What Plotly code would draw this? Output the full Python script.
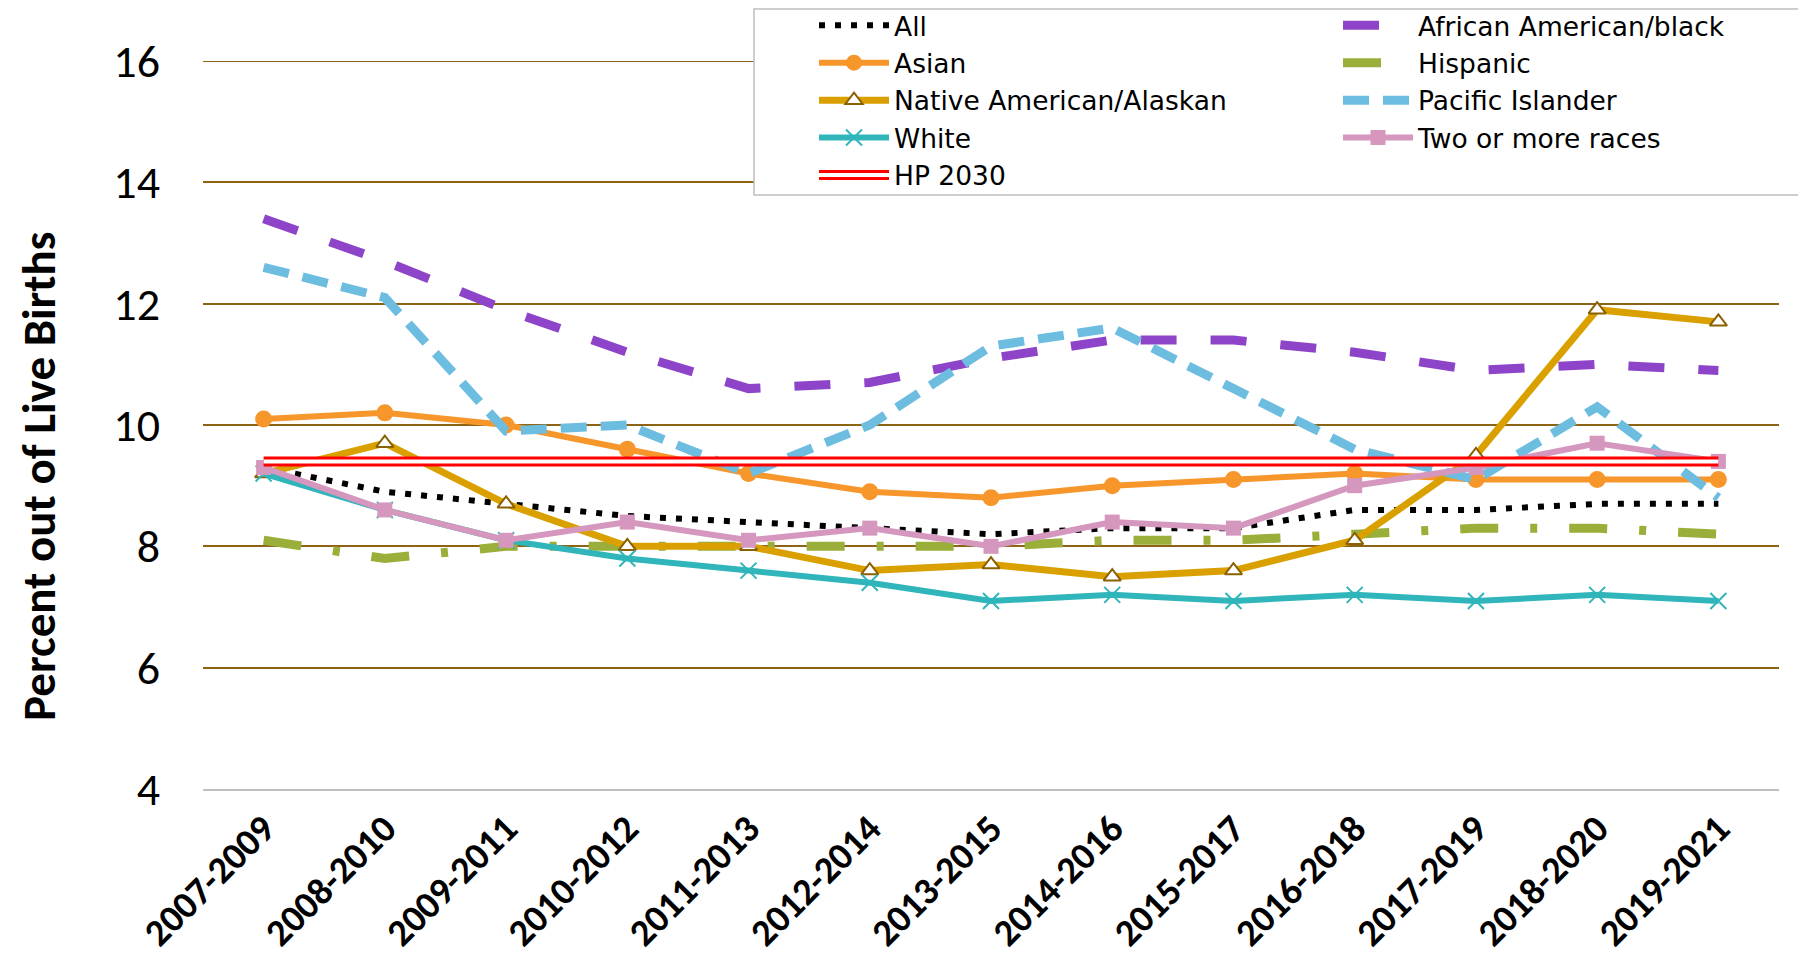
import plotly.graph_objects as go

categories = ['2007-2009', '2008-2010', '2009-2011', '2010-2012', '2011-2013', '2012-2014',
              '2013-2015', '2014-2016', '2015-2017', '2016-2018', '2017-2019', '2018-2020', '2019-2021']

all_vals = [9.3, 8.9, 8.7, 8.5, 8.4, 8.3, 8.2, 8.3, 8.3, 8.6, 8.6, 8.7, 8.7]
african_american = [13.4, 12.7, 11.9, 11.2, 10.6, 10.7, 11.1, 11.4, 11.4, 11.2, 10.9, 11.0, 10.9]
asian = [10.1, 10.2, 10.0, 9.6, 9.2, 8.9, 8.8, 9.0, 9.1, 9.2, 9.1, 9.1, 9.1]
hispanic = [8.1, 7.8, 8.0, 8.0, 8.0, 8.0, 8.0, 8.1, 8.1, 8.2, 8.3, 8.3, 8.2]
native_american = [9.2, 9.7, 8.7, 8.0, 8.0, 7.6, 7.7, 7.5, 7.6, 8.1, 9.5, 11.9, 11.7]
pacific_islander = [12.6, 12.1, 9.9, 10.0, 9.2, 10.0, 11.3, 11.6, 10.6, 9.6, 9.1, 10.3, 8.8]
white = [9.2, 8.6, 8.1, 7.8, 7.6, 7.4, 7.1, 7.2, 7.1, 7.2, 7.1, 7.2, 7.1]
two_or_more = [9.3, 8.6, 8.1, 8.4, 8.1, 8.3, 8.0, 8.4, 8.3, 9.0, 9.3, 9.7, 9.4]
hp2030 = [9.4] * len(categories)

y_ticks = [4, 6, 8, 10, 12, 14, 16]

FONT = "Carlito, Lato, sans-serif"
LEG_FONT = "'DejaVu Sans', sans-serif"
LEG_SIZE = 26.5

fig = go.Figure()

fig.add_trace(go.Scatter(x=categories, y=all_vals, name="All", mode="lines", legend="legend",
                         line=dict(color="black", width=6, dash="6px,10px")))
fig.add_trace(go.Scatter(x=categories, y=african_american, name="African American/black", mode="lines",
                         legend="legend2",
                         line=dict(color="#8E44C8", width=9, dash="36px,34px")))
fig.add_trace(go.Scatter(x=categories, y=asian, name="Asian", mode="lines+markers", legend="legend",
                         line=dict(color="#F7962B", width=6),
                         marker=dict(symbol="circle", size=17, color="#F7962B")))
fig.add_trace(go.Scatter(x=categories, y=hispanic, name="Hispanic", mode="lines", legend="legend2",
                         line=dict(color="#9AAF3A", width=9, dash="38px,32px,7px,32px")))
fig.add_trace(go.Scatter(x=categories, y=native_american, name="Native American/Alaskan", mode="lines+markers",
                         legend="legend",
                         line=dict(color="#D9A000", width=7),
                         marker=dict(symbol="triangle-up", size=15, color="white",
                                     line=dict(color="#8B6000", width=2))))
fig.add_trace(go.Scatter(x=categories, y=pacific_islander, name="Pacific Islander", mode="lines",
                         legend="legend2",
                         line=dict(color="#6DBDE0", width=9, dash="26px,14px")))
fig.add_trace(go.Scatter(x=categories, y=white, name="White", mode="lines+markers", legend="legend",
                         line=dict(color="#2FB5BA", width=6),
                         marker=dict(symbol="x-thin-open", size=16, color="#2FB5BA",
                                     line=dict(color="#2FB5BA", width=2))))
fig.add_trace(go.Scatter(x=categories, y=two_or_more, name="Two or more races", mode="lines+markers",
                         legend="legend2",
                         line=dict(color="#D597BE", width=6),
                         marker=dict(symbol="square", size=15, color="#D597BE")))
fig.add_trace(go.Scatter(x=categories, y=hp2030, name="HP 2030", mode="lines", legend="legend",
                         line=dict(color="#FF0000", width=10)))
# white core of the outlined HP 2030 line; its legend entry sits over the red one
fig.add_trace(go.Scatter(x=categories, y=hp2030, name=" ", mode="lines", legend="legend3",
                         hoverinfo="skip", line=dict(color="white", width=4)))

# figure is drawn 8px in from the window's top-left (page body margin)
W, H = 1798, 947
L, T = 195, 53
pw, ph = 1576, 728
R, B = W - L - pw, H - T - ph


def px_to_paper_x(px):
    return (px - L) / pw


def px_to_paper_y(py):
    return (H - B - py) / ph


# legend frame
fig.add_shape(type="rect", xref="paper", yref="paper",
              x0=px_to_paper_x(746), x1=px_to_paper_x(1795),
              y0=px_to_paper_y(187), y1=px_to_paper_y(1),
              line=dict(color="#BFBFBF", width=1.5), fillcolor="white", layer="above")
# top gridline at 16
fig.add_shape(type="line", xref="paper", yref="y", x0=0, x1=1, y0=16, y1=16,
              line=dict(color="#8C6414", width=2), layer="below")

fig.add_annotation(text="<b>Percent out of Live Births</b>", textangle=-90,
                   xref="paper", yref="paper",
                   x=px_to_paper_x(31), y=px_to_paper_y(468),
                   xanchor="center", yanchor="middle", showarrow=False,
                   font=dict(family=FONT, size=47, color="black"))

leg_common = dict(
    orientation="v", xanchor="left", yanchor="top",
    font=dict(family=LEG_FONT, size=LEG_SIZE, color="black"),
    bgcolor="rgba(0,0,0,0)", borderwidth=0,
    itemwidth=70, tracegroupgap=0,
)
item_h = LEG_SIZE * 1.3 + 3
leg_top = -6.5

fig.update_layout(
    width=W, height=H,
    margin=dict(l=L, r=R, t=T, b=B, pad=0, autoexpand=False),
    paper_bgcolor="white", plot_bgcolor="white",
    font=dict(family=FONT, color="black"),
    showlegend=True,
    legend=dict(x=px_to_paper_x(806), y=px_to_paper_y(leg_top), **leg_common),
    legend2=dict(x=px_to_paper_x(1330), y=px_to_paper_y(leg_top), **leg_common),
    legend3=dict(x=px_to_paper_x(806), y=px_to_paper_y(leg_top + 4 * item_h), **leg_common),
    xaxis=dict(
        type="category", range=[-0.5, 12.5],
        showgrid=False, showline=True, linecolor="#BFBFBF", linewidth=2,
        ticks="", tickangle=-45,
        tickfont=dict(family=FONT, size=38, color="black", weight="bold"),
        ticklabelstandoff=0,
    ),
    yaxis=dict(
        range=[4, 16], tickvals=y_ticks,
        showgrid=True, gridcolor="#8C6414", gridwidth=2,
        zeroline=False, showline=False, ticks="",
        tickfont=dict(family=FONT, size=46, color="black"),
        ticklabelstandoff=42,
    ),
)

fig.write_html("out.html")
